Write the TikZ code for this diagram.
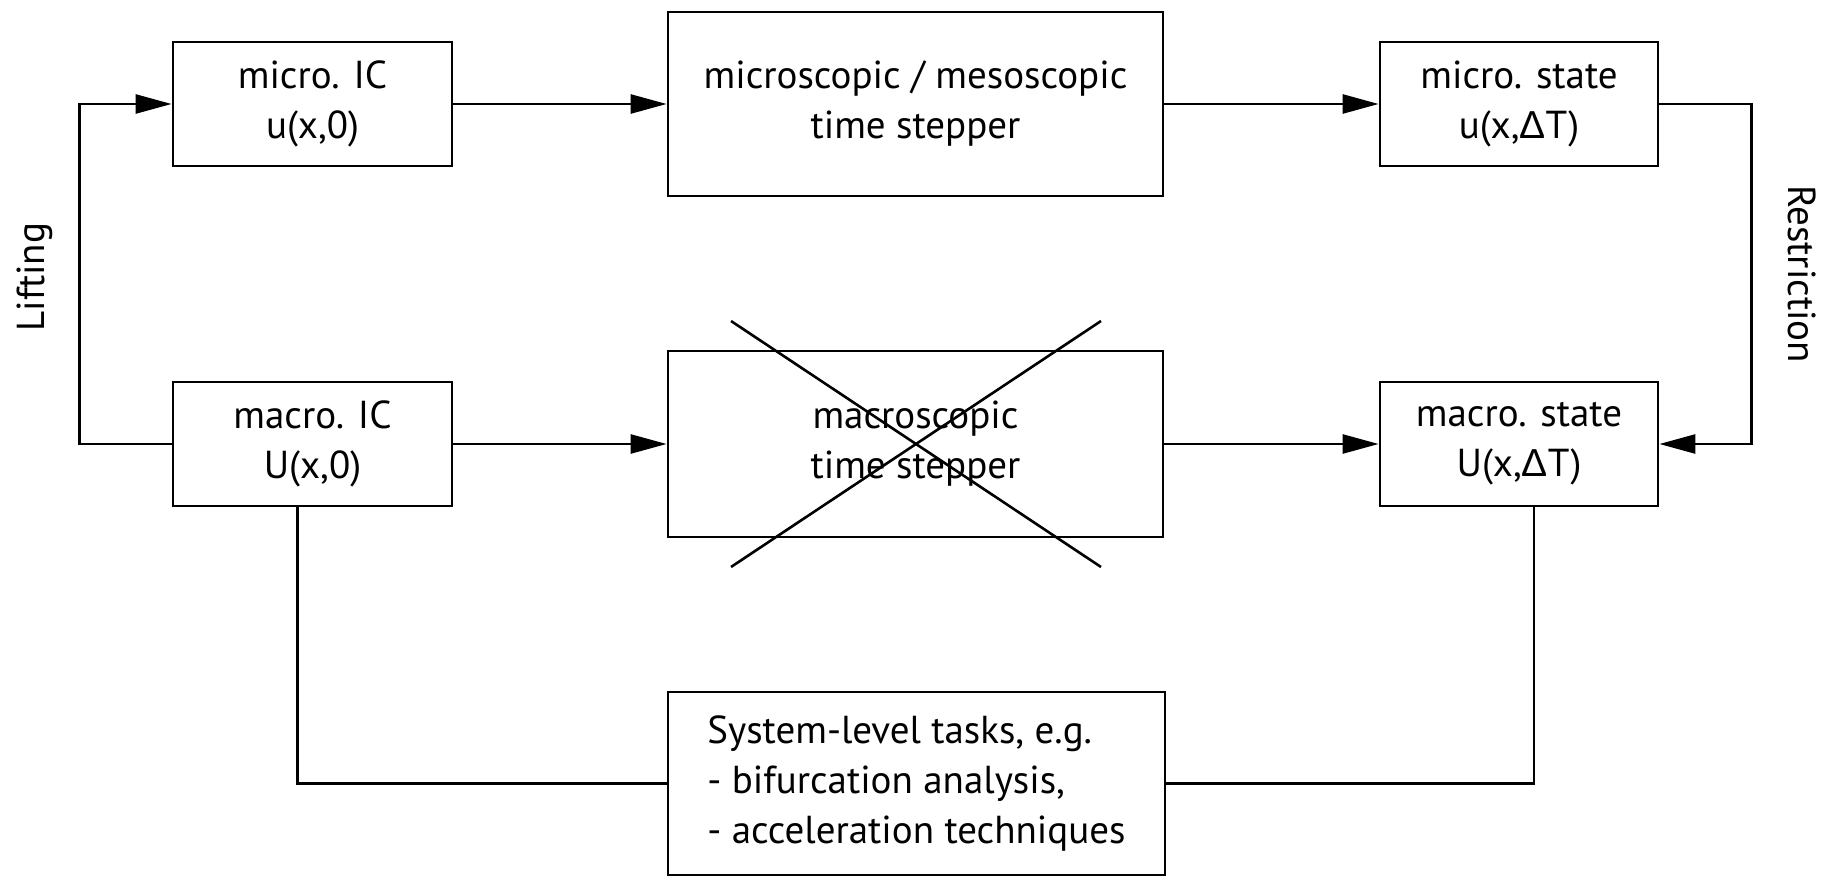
\documentclass[tikz,border=0pt]{standalone}
\usepackage{fontspec}
\setmainfont{PT Sans}
\newfontfamily\gkfont{Liberation Sans}
\usetikzlibrary{arrows.meta}
\tikzset{
  box/.style={draw, line width=2.8pt, align=center, inner sep=0pt,
    font=\fontsize{39}{50}\selectfont},
  conn/.style={line width=2.6pt},
  arr/.style={conn, -{Triangle[length=36pt,width=19pt]}},
  lbl/.style={font=\fontsize{39}{40}\selectfont, inner sep=0pt}
}
\begin{document}
\begin{tikzpicture}[x=1pt,y=1pt]
\useasboundingbox (0,0) rectangle (1831,-877);
\node[box, minimum width=279pt, minimum height=124pt] (microIC) at (312.5,-104) {micro. IC\\u(x,0)};
\node[box, minimum width=495pt, minimum height=184pt] (microStep) at (915.5,-104) {microscopic / mesoscopic\\time stepper};
\node[box, minimum width=278pt, minimum height=124pt] (microState) at (1519,-104) {micro. state\\u(x,{\gkfont Δ}T)};
\node[box, minimum width=279pt, minimum height=124pt] (macroIC) at (312.5,-444) {macro. IC\\U(x,0)};
\node[box, minimum width=495pt, minimum height=186pt] (macroStep) at (915.5,-444) {macroscopic\\time stepper};
\node[box, minimum width=278pt, minimum height=124pt] (macroState) at (1519,-444) {macro. state\\U(x,{\gkfont Δ}T)};
\node[box, align=left, minimum width=497pt, minimum height=183pt] (sys) at (916.5,-783.5) {System-level tasks, e.g.\\- bifurcation analysis,\\- acceleration techniques};
\draw[conn] (731,-321) -- (1101,-567);
\draw[conn] (1101,-321) -- (731,-567);
\draw[arr] (microIC) -- (microStep);
\draw[arr] (microStep) -- (microState);
\draw[arr] (macroIC) -- (macroStep);
\draw[arr] (macroStep) -- (macroState);
\draw[arr] (macroIC.west) -- ++(-92,0) |- (microIC.west);
\draw[arr] (microState.east) -- ++(92,0) |- (macroState.east);
\draw[conn] ([xshift=-15pt]macroIC.south) |- (sys.west);
\draw[conn] ([xshift=15pt]macroState.south) |- (sys.east);
\node[lbl, rotate=90] (lift) at (35,-277) {Lifting};
\node[lbl, rotate=-90] (restr) at (1802,-274) {Restriction};
\end{tikzpicture}
\end{document}
